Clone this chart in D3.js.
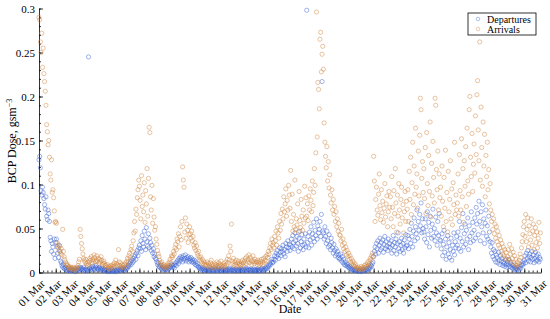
<!DOCTYPE html>
<html>
<head>
<meta charset="utf-8">
<script src="https://cdn.jsdelivr.net/npm/d3@7"></script>
<style>
  body { margin: 0; background: #fff; }
  svg { display: block; font-family: "Liberation Serif", "DejaVu Serif", serif; }
  .axis path, .axis line { stroke: #000; }
</style>
</head>
<body>
<svg id="chart" width="550" height="319"></svg>
<script>
// hourly readings, 01 Mar 00:00 onward (one row per day)
var departures = [
.128,.132,.119,.093,.088,.097,.091,.084,.077,.072,.086,.064,.060,.071,.067,.058,.040,.036,.024,.033,.029,.021,.038,.016,
.034,.038,.029,.022,.017,.031,.024,.013,.011,.008,.006,.009,.005,.004,.006,.003,.004,.002,.005,.003,.002,.004,.003,.002,
.003,.002,.004,.002,.001,.002,.003,.002,.004,.005,.003,.006,.004,.005,.003,.004,.006,.003,.002,.004,.003,.002,.003,.245,
.004,.005,.003,.006,.004,.007,.005,.003,.004,.006,.008,.005,.004,.003,.005,.006,.004,.003,.005,.004,.002,.003,.004,.003,
.002,.003,.001,.002,.003,.002,.001,.002,.004,.003,.002,.001,.002,.003,.002,.001,.003,.002,.004,.003,.002,.003,.005,.004,
.003,.004,.002,.003,.005,.004,.006,.005,.008,.007,.010,.012,.009,.014,.011,.016,.013,.018,.020,.015,.022,.025,.019,.028,
.031,.027,.036,.024,.042,.033,.029,.047,.038,.026,.051,.035,.030,.044,.028,.039,.034,.025,.031,.022,.027,.018,.021,.016,
.015,.012,.009,.011,.007,.006,.008,.005,.004,.006,.003,.005,.004,.003,.005,.004,.003,.006,.004,.005,.007,.006,.009,.008,
.006,.008,.005,.009,.011,.008,.012,.014,.010,.016,.013,.018,.015,.017,.012,.019,.014,.016,.020,.013,.017,.015,.018,.012,
.016,.014,.017,.012,.015,.013,.011,.014,.009,.012,.008,.010,.007,.006,.005,.004,.006,.003,.004,.005,.003,.002,.004,.003,
.003,.002,.004,.003,.002,.003,.005,.002,.003,.004,.002,.003,.002,.004,.003,.002,.003,.005,.004,.002,.003,.002,.004,.003,
.002,.003,.002,.004,.003,.002,.003,.002,.004,.003,.005,.003,.002,.003,.004,.002,.003,.002,.004,.003,.002,.003,.002,.004,
.003,.002,.004,.003,.002,.003,.004,.002,.003,.005,.003,.002,.004,.003,.002,.003,.004,.002,.003,.002,.004,.003,.002,.003,
.002,.003,.004,.002,.003,.002,.004,.003,.005,.003,.002,.004,.003,.005,.004,.006,.005,.008,.007,.010,.009,.012,.015,.011,
.012,.015,.019,.014,.022,.018,.025,.020,.016,.028,.023,.019,.027,.024,.031,.021,.026,.018,.033,.029,.024,.036,.028,.032,
.025,.031,.038,.029,.042,.034,.027,.045,.036,.030,.041,.033,.024,.039,.047,.028,.035,.043,.031,.026,.038,.032,.044,.029,
.298,.034,.041,.028,.046,.037,.052,.031,.044,.039,.057,.035,.048,.042,.061,.038,.053,.045,.049,.058,.041,.066,.217,.047,
.045,.038,.052,.041,.033,.047,.036,.029,.043,.031,.026,.039,.034,.028,.022,.032,.025,.019,.027,.021,.024,.017,.020,.015,
.016,.021,.013,.018,.011,.015,.009,.012,.008,.010,.007,.009,.006,.005,.007,.004,.005,.003,.004,.003,.002,.004,.003,.002,
.002,.003,.001,.002,.003,.002,.001,.002,.003,.002,.004,.002,.003,.002,.004,.003,.005,.004,.006,.005,.008,.007,.010,.012,
.018,.024,.029,.021,.033,.027,.036,.022,.031,.039,.026,.034,.028,.037,.023,.032,.041,.027,.035,.030,.025,.038,.029,.033,
.028,.036,.022,.031,.042,.025,.034,.029,.038,.021,.033,.045,.027,.035,.024,.031,.039,.026,.033,.022,.037,.028,.043,.030,
.031,.042,.027,.038,.049,.033,.056,.041,.029,.047,.062,.036,.052,.044,.071,.039,.058,.048,.066,.053,.079,.045,.061,.050,
.046,.038,.061,.052,.034,.069,.043,.057,.029,.064,.048,.039,.055,.072,.041,.050,.036,.063,.045,.031,.058,.042,.067,.037,
.036,.027,.044,.019,.032,.048,.023,.038,.015,.029,.042,.021,.034,.017,.026,.039,.014,.031,.024,.045,.020,.035,.028,.041,
.031,.046,.027,.058,.039,.024,.051,.035,.067,.029,.044,.055,.032,.048,.038,.062,.026,.053,.041,.034,.069,.045,.057,.036,
.048,.062,.039,.074,.055,.067,.043,.081,.058,.036,.069,.052,.077,.045,.061,.033,.056,.071,.041,.053,.038,.064,.046,.035,
.029,.022,.034,.018,.026,.015,.024,.012,.020,.017,.011,.023,.014,.009,.019,.013,.016,.008,.012,.010,.007,.014,.009,.006,
.012,.009,.015,.007,.011,.006,.009,.005,.008,.004,.006,.003,.005,.004,.003,.006,.002,.004,.007,.005,.009,.008,.012,.010,
.014,.019,.011,.022,.016,.025,.013,.018,.021,.012,.017,.024,.015,.020,.011,.016,.023,.013,.019,.014,.021,.012,.017,.015
];

var arrivals = [
.290,.287,.262,.250,.272,.233,.255,.226,.217,.206,.190,.168,.160,.145,.150,.131,.112,.105,.128,.091,.094,.085,.070,.057,
.058,.056,.034,.031,.028,.025,.030,.022,.027,.020,.049,.024,.018,.015,.012,.009,.010,.008,.006,.007,.005,.004,.006,.005,
.004,.006,.003,.005,.002,.004,.006,.005,.008,.012,.015,.049,.041,.033,.027,.021,.016,.014,.012,.015,.010,.008,.011,.009,
.012,.016,.014,.018,.011,.015,.013,.020,.017,.012,.014,.019,.013,.016,.010,.015,.012,.018,.014,.009,.011,.013,.010,.008,
.008,.006,.009,.005,.007,.004,.006,.008,.005,.007,.009,.006,.011,.008,.014,.010,.007,.009,.026,.012,.008,.011,.006,.009,
.006,.008,.005,.009,.011,.008,.013,.016,.012,.019,.022,.017,.026,.030,.024,.036,.045,.058,.047,.072,.066,.085,.094,.105,
.098,.082,.061,.110,.075,.088,.069,.102,.057,.093,.078,.118,.064,.107,.165,.159,.086,.071,.099,.056,.084,.063,.048,.052,
.038,.032,.025,.021,.018,.014,.011,.009,.012,.008,.006,.009,.007,.005,.008,.006,.007,.010,.008,.012,.015,.011,.019,.017,
.019,.024,.021,.028,.032,.026,.038,.035,.044,.029,.041,.052,.037,.058,.120,.105,.097,.046,.062,.039,.055,.048,.034,.043,
.052,.044,.039,.047,.036,.041,.031,.028,.034,.025,.030,.022,.019,.024,.017,.014,.018,.012,.015,.010,.013,.009,.011,.008,
.009,.012,.007,.010,.006,.008,.011,.014,.009,.006,.008,.005,.010,.007,.009,.012,.006,.008,.011,.007,.009,.013,.008,.006,
.007,.010,.008,.006,.012,.009,.015,.011,.019,.014,.030,.024,.055,.013,.010,.016,.008,.012,.009,.014,.007,.011,.013,.009,
.010,.008,.012,.009,.014,.011,.007,.013,.016,.010,.018,.012,.015,.020,.011,.017,.014,.009,.012,.019,.013,.010,.015,.012,
.012,.009,.014,.011,.008,.013,.010,.015,.012,.009,.016,.011,.014,.018,.013,.020,.017,.024,.021,.028,.033,.026,.038,.031,
.034,.028,.041,.036,.047,.031,.052,.045,.039,.058,.048,.067,.055,.072,.061,.086,.069,.078,.095,.064,.082,.071,.099,.088,
.073,.116,.058,.089,.047,.066,.052,.105,.049,.061,.054,.078,.046,.092,.059,.051,.083,.064,.048,.071,.056,.098,.062,.085,
.064,.078,.059,.087,.071,.095,.082,.069,.104,.076,.091,.118,.099,.136,.296,.154,.216,.208,.186,.265,.273,.228,.248,.257,
.231,.170,.148,.132,.119,.143,.104,.126,.096,.111,.088,.079,.094,.071,.083,.066,.075,.058,.069,.052,.061,.047,.056,.043,
.042,.036,.049,.031,.038,.027,.033,.024,.029,.020,.025,.018,.022,.015,.019,.012,.016,.010,.013,.008,.011,.007,.009,.006,
.005,.004,.006,.003,.005,.004,.007,.005,.003,.006,.004,.008,.006,.009,.007,.011,.008,.013,.010,.016,.014,.019,.022,.018,
.132,.104,.058,.083,.097,.071,.065,.089,.112,.076,.060,.094,.068,.081,.057,.073,.101,.063,.078,.087,.052,.069,.092,.074,
.086,.061,.109,.074,.052,.093,.067,.118,.079,.046,.088,.064,.101,.071,.055,.083,.097,.062,.077,.045,.069,.092,.058,.081,
.072,.094,.058,.115,.083,.131,.066,.102,.148,.077,.121,.089,.164,.097,.112,.073,.138,.087,.156,.198,.185,.107,.126,.091,
.118,.084,.142,.067,.159,.101,.076,.133,.092,.171,.063,.124,.087,.149,.108,.079,.198,.190,.117,.094,.138,.071,.112,.085,
.097,.064,.121,.081,.052,.108,.073,.139,.058,.091,.046,.115,.069,.083,.127,.061,.095,.054,.102,.077,.148,.066,.088,.071,
.079,.112,.064,.134,.093,.071,.152,.086,.118,.057,.127,.098,.143,.075,.164,.104,.089,.185,.200,.131,.109,.158,.092,.123,
.146,.113,.178,.134,.202,.218,.162,.127,.262,.105,.188,.142,.098,.171,.121,.157,.086,.133,.109,.148,.094,.117,.078,.101,
.071,.058,.066,.049,.061,.044,.055,.039,.052,.035,.047,.031,.042,.028,.037,.024,.033,.021,.029,.019,.026,.016,.023,.015,
.018,.026,.014,.032,.021,.012,.027,.016,.023,.011,.019,.009,.015,.008,.012,.006,.010,.014,.021,.017,.028,.035,.043,.052,
.058,.041,.066,.035,.049,.062,.029,.053,.044,.037,.061,.031,.047,.055,.026,.042,.051,.034,.046,.028,.039,.057,.033,.045
];

var seriesNames = ["Departures", "Arrivals"];
var seriesColors = ["#3a63d2", "#cf8440"];
var yTicks = [0, 0.05, 0.1, 0.15, 0.2, 0.25, 0.3];

var start = new Date(2021, 2, 1), end = new Date(2021, 2, 31);

var svg = d3.select("#chart");
var x = d3.scaleTime().domain([start, end]).range([39, 541]);
var y = d3.scaleLinear().domain([0, 0.3]).range([272.5, 8.5]);

// minor ticks first
svg.append("g").attr("class", "axis")
  .attr("transform", "translate(0,272.5)")
  .call(d3.axisBottom(x).ticks(d3.timeHour.every(6)).tickSize(-2).tickFormat(""))
  .call(g => g.select(".domain").remove());
svg.append("g").attr("class", "axis")
  .attr("transform", "translate(39,0)")
  .call(d3.axisLeft(y).tickValues(d3.range(0, 0.3001, 0.01)).tickSize(-2).tickFormat(""))
  .call(g => g.select(".domain").remove());

var xAxis = svg.append("g").attr("class", "axis")
  .attr("transform", "translate(0,272.5)")
  .call(d3.axisBottom(x).ticks(d3.timeDay.every(1)).tickSizeInner(-4).tickSizeOuter(0).tickFormat(d3.timeFormat("%d %b")));
xAxis.selectAll("text")
  .attr("font-size", 11)
  .attr("font-family", "Liberation Serif")
  .attr("y", null).attr("dy", null)
  .attr("text-anchor", "end")
  .attr("transform", "translate(6,12) rotate(-45)");

svg.append("g").attr("class", "axis")
  .attr("transform", "translate(39,0)")
  .call(d3.axisLeft(y).tickValues(yTicks).tickSizeInner(-4).tickSizeOuter(0).tickPadding(4).tickFormat(d => String(+d.toFixed(2))))
  .selectAll("text").attr("font-size", 11).attr("font-family", "Liberation Serif");

svg.selectAll(".axis line, .axis path").attr("stroke-width", 0.8);

var data = [departures, arrivals];
data.forEach(function(vals, k) {
  svg.append("g").selectAll("circle")
    .data(vals)
    .enter().append("circle")
    .attr("cx", (d, i) => x(d3.timeHour.offset(start, i)))
    .attr("cy", d => y(d))
    .attr("r", 2.1)
    .attr("fill", "none")
    .attr("stroke", seriesColors[k])
    .attr("stroke-opacity", 0.6)
    .attr("stroke-width", 0.8);
});

// axis titles
svg.append("text")
  .attr("x", 290).attr("y", 313)
  .attr("text-anchor", "middle")
  .attr("font-size", 12)
  .text("Date");

svg.append("text")
  .attr("transform", "translate(16,141) rotate(-90)")
  .attr("text-anchor", "middle")
  .attr("font-size", 12)
  .html("BCP Dose, gsm<tspan dy='-4' font-size='8'>\u22123</tspan>");

// legend
var lg = svg.append("g").attr("transform", "translate(468,13)");
lg.append("rect").attr("width", 68).attr("height", 22)
  .attr("fill", "#fff").attr("stroke", "#000").attr("stroke-width", 0.8);
seriesNames.forEach(function(name, k) {
  lg.append("circle").attr("cx", 10).attr("cy", 6 + k * 10).attr("r", 1.8)
    .attr("fill", "none").attr("stroke", seriesColors[k]).attr("stroke-opacity", 0.5).attr("stroke-width", 0.8);
  lg.append("text").attr("x", 19).attr("y", 9.5 + k * 10)
    .attr("font-size", 10).text(name);
});
</script>
</body>
</html>
